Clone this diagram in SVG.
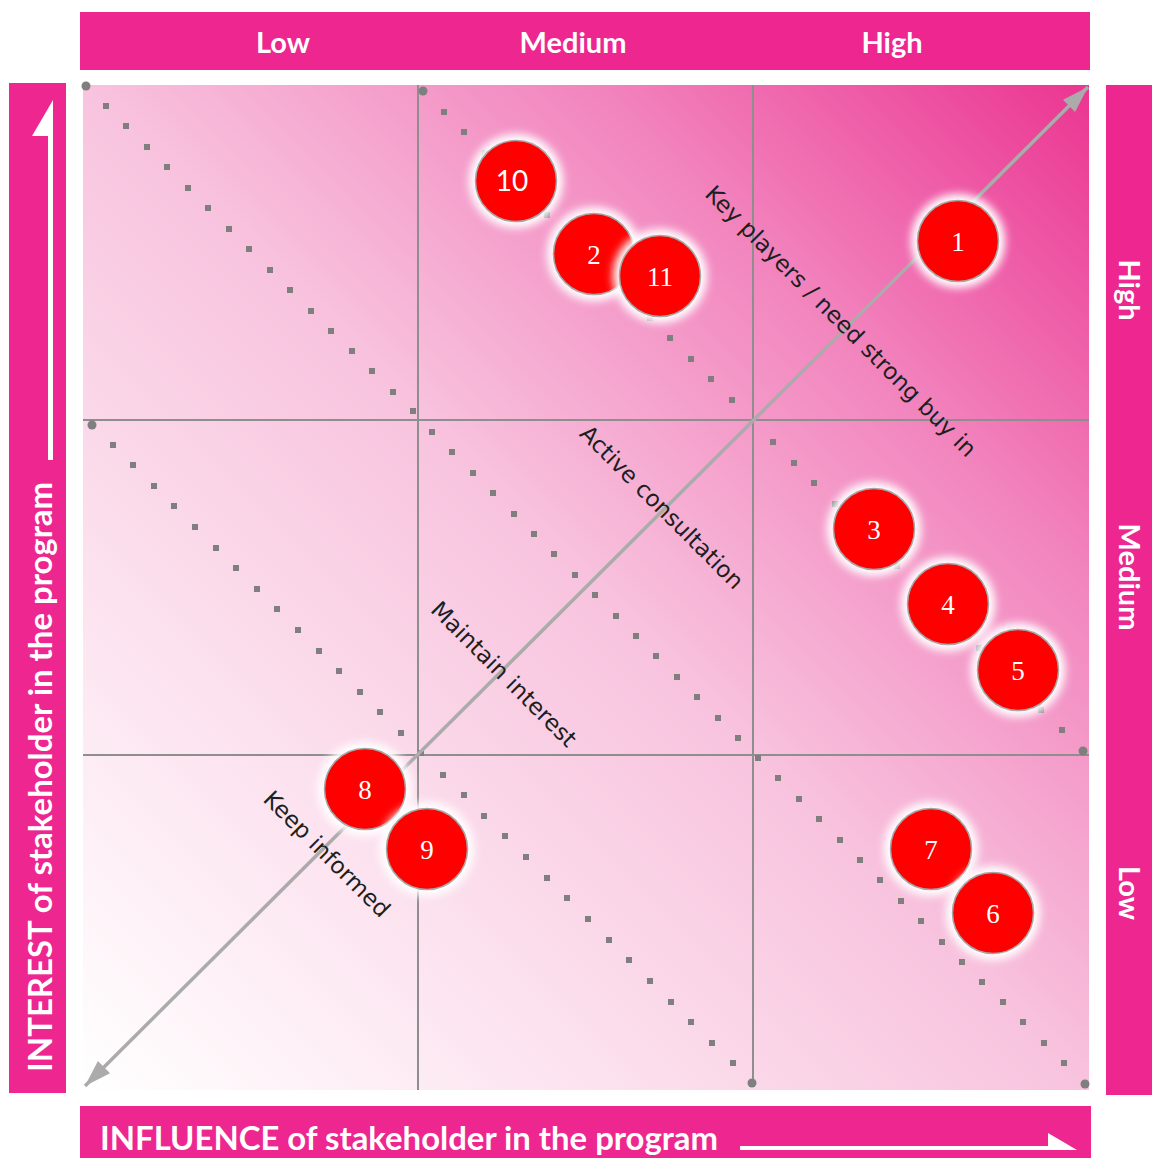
<svg xmlns="http://www.w3.org/2000/svg" xmlns:xlink="http://www.w3.org/1999/xlink" width="1152" height="1158" viewBox="0 0 1152 1158">
  <defs>
    <linearGradient id="gridBg" gradientUnits="userSpaceOnUse" x1="83" y1="1090" x2="1089" y2="85">
      <stop offset="0" stop-color="#FFFFFF"/>
      <stop offset="0.25" stop-color="#FCE3EF"/>
      <stop offset="0.5" stop-color="#F8C3DE"/>
      <stop offset="0.75" stop-color="#F285BE"/>
      <stop offset="1" stop-color="#EB3591"/>
    </linearGradient>
    <filter id="glow" x="-50%" y="-50%" width="200%" height="200%">
      <feGaussianBlur stdDeviation="4.5"/>
    </filter>
    <rect id="sq" x="-3" y="-3" width="6" height="6" fill="#7F7F7F"/>
    <circle id="rd" r="4.5" fill="#7F7F7F"/>
    <marker id="head" markerUnits="userSpaceOnUse" markerWidth="30" markerHeight="30" refX="0" refY="0" viewBox="-26 -10 28 20" orient="auto-start-reverse">
      <path d="M0,0 L-25,-8 L-25,8 Z" fill="#ABABAB"/>
    </marker>
    <style>
      .bar { fill: #ED2690; }
      .bartxt { font-family: Lato, "Open Sans", sans-serif; font-weight: 700; fill: #FFFFFF; }
      .grid { stroke: #8E8E8E; stroke-width: 2; fill: none; }
      .lbl { font-family: "DejaVu Sans", Verdana, sans-serif; font-size: 23px; fill: #1E1E1E; }
      .ball { fill: #FF0000; stroke: #A6A6A6; stroke-width: 1.5; }
      .halo { fill: #FFFFFF; filter: url(#glow); }
      .num { font-family: "Liberation Serif", serif; font-size: 27px; fill: #FFFFFF; text-anchor: middle; }
      .numsans { font-family: Lato, "Liberation Sans", sans-serif; font-size: 28px; }
    </style>
  </defs>

  <!-- header and axis bars -->
  <g id="top-bar">
    <rect class="bar" x="80" y="12" width="1010" height="58"/>
    <text class="bartxt" x="283" y="53" font-size="29" text-anchor="middle">Low</text>
    <text class="bartxt" x="573" y="53" font-size="29" text-anchor="middle">Medium</text>
    <text class="bartxt" x="892" y="53" font-size="29" text-anchor="middle">High</text>
  </g>
  <g id="right-bar">
    <rect class="bar" x="1106" y="85" width="50" height="1010"/>
    <text class="bartxt" font-size="29" text-anchor="middle" dy="0.35em" transform="translate(1129,290) rotate(90)">High</text>
    <text class="bartxt" font-size="29" text-anchor="middle" dy="0.35em" transform="translate(1129,577) rotate(90)">Medium</text>
    <text class="bartxt" font-size="29" text-anchor="middle" dy="0.35em" transform="translate(1129,893) rotate(90)">Low</text>
  </g>
  <g id="left-bar">
    <rect class="bar" x="9" y="83" width="57" height="1010"/>
    <path d="M48,460 V136 H32 L53,100 V460 Z" fill="#FFFFFF"/>
    <text class="bartxt" font-size="32" textLength="590" lengthAdjust="spacingAndGlyphs" transform="translate(52,1072) rotate(-90)">INTEREST of stakeholder in the program</text>
  </g>
  <g id="bottom-bar">
    <rect class="bar" x="80" y="1106" width="1011" height="60"/>
    <path d="M740,1146 H1048 V1133 L1077,1150 H740 Z" fill="#FFFFFF"/>
    <text class="bartxt" x="100" y="1150" font-size="32" textLength="618" lengthAdjust="spacingAndGlyphs">INFLUENCE of stakeholder in the program</text>
  </g>

  <!-- matrix background and 3x3 grid -->
  <g id="matrix">
    <rect x="83" y="85" width="1006" height="1005" fill="url(#gridBg)"/>
    <line class="grid" x1="418" y1="85" x2="418" y2="1090"/>
    <line class="grid" x1="753" y1="85" x2="753" y2="1084"/>
    <line class="grid" x1="83" y1="420" x2="1089" y2="420"/>
    <line class="grid" x1="83" y1="755" x2="1089" y2="755"/>
  </g>

  <!-- dotted zone boundaries -->
  <g id="connectors">
    <g id="dots-tl">
      <use xlink:href="#rd" x="86" y="86"/>
      <use xlink:href="#sq" x="106" y="106"/><use xlink:href="#sq" x="126" y="126"/><use xlink:href="#sq" x="147" y="147"/><use xlink:href="#sq" x="167" y="167"/>
      <use xlink:href="#sq" x="188" y="188"/><use xlink:href="#sq" x="208" y="208"/><use xlink:href="#sq" x="229" y="229"/><use xlink:href="#sq" x="249" y="249"/>
      <use xlink:href="#sq" x="270" y="270"/><use xlink:href="#sq" x="290" y="290"/><use xlink:href="#sq" x="311" y="311"/><use xlink:href="#sq" x="331" y="331"/>
      <use xlink:href="#sq" x="352" y="351"/><use xlink:href="#sq" x="372" y="371"/><use xlink:href="#sq" x="393" y="392"/><use xlink:href="#sq" x="413" y="411"/>
    </g>
    <g id="dots-tm">
      <use xlink:href="#rd" x="423" y="91"/>
      <use xlink:href="#sq" x="444" y="112"/><use xlink:href="#sq" x="464" y="132"/><use xlink:href="#sq" x="485" y="153"/><use xlink:href="#sq" x="505" y="173"/>
      <use xlink:href="#sq" x="526" y="194"/><use xlink:href="#sq" x="547" y="215"/><use xlink:href="#sq" x="567" y="235"/><use xlink:href="#sq" x="588" y="256"/>
      <use xlink:href="#sq" x="608" y="276"/><use xlink:href="#sq" x="629" y="297"/><use xlink:href="#sq" x="650" y="318"/><use xlink:href="#sq" x="670" y="338"/>
      <use xlink:href="#sq" x="691" y="359"/><use xlink:href="#sq" x="711" y="379"/><use xlink:href="#sq" x="732" y="400"/>
    </g>
    <g id="dots-ml">
      <use xlink:href="#rd" x="92" y="425"/>
      <use xlink:href="#sq" x="113" y="445"/><use xlink:href="#sq" x="133" y="465"/><use xlink:href="#sq" x="154" y="486"/><use xlink:href="#sq" x="174" y="506"/>
      <use xlink:href="#sq" x="195" y="527"/><use xlink:href="#sq" x="216" y="548"/><use xlink:href="#sq" x="236" y="568"/><use xlink:href="#sq" x="257" y="589"/>
      <use xlink:href="#sq" x="277" y="609"/><use xlink:href="#sq" x="298" y="630"/><use xlink:href="#sq" x="319" y="651"/><use xlink:href="#sq" x="339" y="671"/>
      <use xlink:href="#sq" x="360" y="692"/><use xlink:href="#sq" x="380" y="712"/><use xlink:href="#sq" x="401" y="733"/><use xlink:href="#sq" x="421" y="753"/>
    </g>
    <g id="dots-mm">
      <use xlink:href="#sq" x="432" y="432"/><use xlink:href="#sq" x="452" y="452"/><use xlink:href="#sq" x="473" y="473"/><use xlink:href="#sq" x="493" y="493"/>
      <use xlink:href="#sq" x="514" y="514"/><use xlink:href="#sq" x="534" y="534"/><use xlink:href="#sq" x="554" y="554"/><use xlink:href="#sq" x="575" y="575"/>
      <use xlink:href="#sq" x="595" y="595"/><use xlink:href="#sq" x="616" y="616"/><use xlink:href="#sq" x="636" y="636"/><use xlink:href="#sq" x="656" y="656"/>
      <use xlink:href="#sq" x="677" y="677"/><use xlink:href="#sq" x="697" y="697"/><use xlink:href="#sq" x="718" y="718"/><use xlink:href="#sq" x="738" y="738"/>
    </g>
    <g id="dots-mr">
      <use xlink:href="#sq" x="773" y="442"/><use xlink:href="#sq" x="794" y="463"/><use xlink:href="#sq" x="814" y="483"/><use xlink:href="#sq" x="835" y="504"/>
      <use xlink:href="#sq" x="856" y="525"/><use xlink:href="#sq" x="876" y="545"/><use xlink:href="#sq" x="897" y="566"/><use xlink:href="#sq" x="918" y="587"/>
      <use xlink:href="#sq" x="938" y="607"/><use xlink:href="#sq" x="959" y="628"/><use xlink:href="#sq" x="979" y="648"/><use xlink:href="#sq" x="1000" y="669"/>
      <use xlink:href="#sq" x="1021" y="690"/><use xlink:href="#sq" x="1041" y="710"/><use xlink:href="#sq" x="1062" y="730"/>
      <use xlink:href="#rd" x="1083" y="751"/>
    </g>
    <g id="dots-bm">
      <use xlink:href="#sq" x="443" y="775"/><use xlink:href="#sq" x="464" y="795"/><use xlink:href="#sq" x="484" y="816"/><use xlink:href="#sq" x="505" y="836"/>
      <use xlink:href="#sq" x="526" y="857"/><use xlink:href="#sq" x="547" y="878"/><use xlink:href="#sq" x="567" y="898"/><use xlink:href="#sq" x="588" y="919"/>
      <use xlink:href="#sq" x="609" y="940"/><use xlink:href="#sq" x="629" y="960"/><use xlink:href="#sq" x="650" y="981"/><use xlink:href="#sq" x="671" y="1002"/>
      <use xlink:href="#sq" x="691" y="1022"/><use xlink:href="#sq" x="712" y="1043"/><use xlink:href="#sq" x="733" y="1063"/>
      <use xlink:href="#rd" x="752" y="1083"/>
    </g>
    <g id="dots-br">
      <use xlink:href="#sq" x="758" y="758"/><use xlink:href="#sq" x="778" y="778"/><use xlink:href="#sq" x="799" y="799"/><use xlink:href="#sq" x="819" y="819"/>
      <use xlink:href="#sq" x="840" y="840"/><use xlink:href="#sq" x="860" y="860"/><use xlink:href="#sq" x="880" y="880"/><use xlink:href="#sq" x="901" y="901"/>
      <use xlink:href="#sq" x="921" y="921"/><use xlink:href="#sq" x="942" y="942"/><use xlink:href="#sq" x="962" y="962"/><use xlink:href="#sq" x="982" y="982"/>
      <use xlink:href="#sq" x="1003" y="1002"/><use xlink:href="#sq" x="1023" y="1022"/><use xlink:href="#sq" x="1044" y="1043"/><use xlink:href="#sq" x="1064" y="1063"/>
      <use xlink:href="#rd" x="1085" y="1084"/>
    </g>
    <!-- double-headed diagonal priority axis -->
    <line id="priority-axis" x1="85" y1="1086" x2="1088" y2="87" stroke="#ABABAB" stroke-width="3.5" marker-start="url(#head)" marker-end="url(#head)"/>
  </g>

  <!-- zone labels -->
  <g id="zone-labels">
    <text class="lbl" text-anchor="middle" transform="translate(841,321) rotate(45)" dy="0.35em">Key players / need strong buy in</text>
    <text class="lbl" text-anchor="middle" transform="translate(662,507) rotate(45)" dy="0.35em">Active consultation</text>
    <text class="lbl" text-anchor="middle" transform="translate(504,674) rotate(45)" dy="0.35em">Maintain interest</text>
    <text class="lbl" text-anchor="middle" transform="translate(327,854) rotate(45)" dy="0.35em">Keep informed</text>
  </g>

  <!-- stakeholders -->
  <g id="s10"><circle class="halo" cx="516" cy="181" r="47"/><circle class="ball" cx="516" cy="181" r="40.5"/><text class="num numsans" x="512" y="191">10</text></g>
  <g id="s2"><circle class="halo" cx="594" cy="254" r="47"/><circle class="ball" cx="594" cy="254" r="40.5"/><text class="num" x="594" y="264">2</text></g>
  <g id="s11"><circle class="halo" cx="660" cy="276" r="47"/><circle class="ball" cx="660" cy="276" r="40.5"/><text class="num" x="660" y="286">11</text></g>
  <g id="s1"><circle class="halo" cx="958" cy="241" r="47"/><circle class="ball" cx="958" cy="241" r="40.5"/><text class="num" x="958" y="251">1</text></g>
  <g id="s3"><circle class="halo" cx="874" cy="529" r="47"/><circle class="ball" cx="874" cy="529" r="40.5"/><text class="num" x="874" y="539">3</text></g>
  <g id="s4"><circle class="halo" cx="948" cy="604" r="47"/><circle class="ball" cx="948" cy="604" r="40.5"/><text class="num" x="948" y="614">4</text></g>
  <g id="s5"><circle class="halo" cx="1018" cy="670" r="47"/><circle class="ball" cx="1018" cy="670" r="40.5"/><text class="num" x="1018" y="680">5</text></g>
  <g id="s8"><circle class="halo" cx="365" cy="789" r="47"/><circle class="ball" cx="365" cy="789" r="40.5"/><text class="num" x="365" y="799">8</text></g>
  <g id="s9"><circle class="halo" cx="427" cy="849" r="47"/><circle class="ball" cx="427" cy="849" r="40.5"/><text class="num" x="427" y="859">9</text></g>
  <g id="s7"><circle class="halo" cx="931" cy="849" r="47"/><circle class="ball" cx="931" cy="849" r="40.5"/><text class="num" x="931" y="859">7</text></g>
  <g id="s6"><circle class="halo" cx="993" cy="913" r="47"/><circle class="ball" cx="993" cy="913" r="40.5"/><text class="num" x="993" y="923">6</text></g>
</svg>
